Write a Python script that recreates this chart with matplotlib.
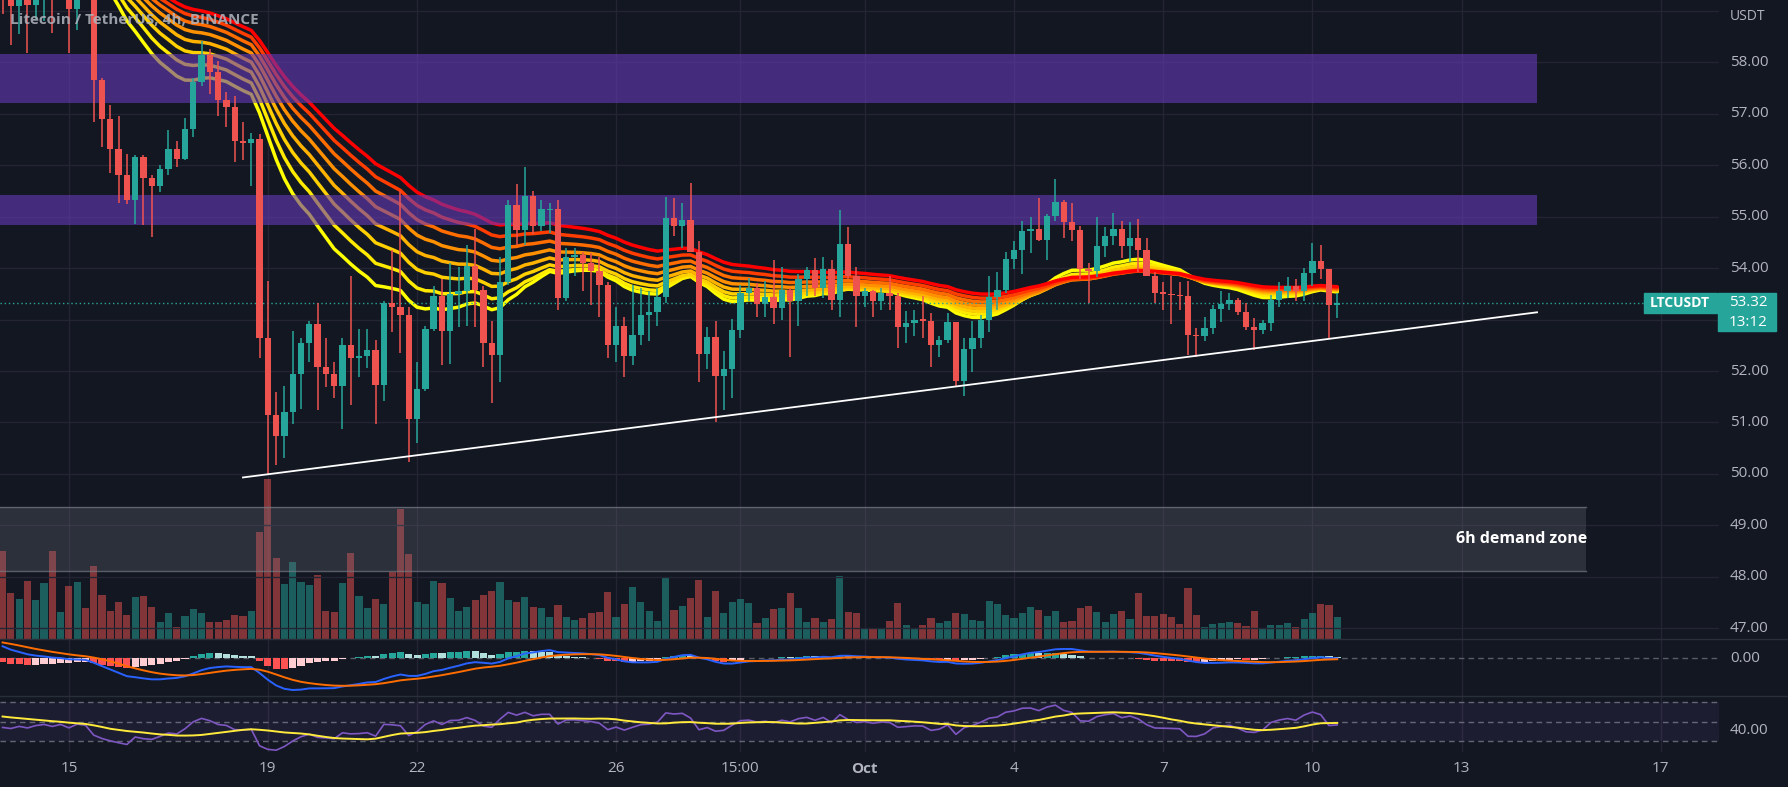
import numpy as np
import matplotlib.pyplot as plt

# ---- LTCUSDT 4h candles, Sep 13 16:00 .. Oct 10 12:00 ----
opens = [59.60, 59.30, 59.09, 59.40, 59.12, 59.45, 59.60, 59.30, 59.55, 59.04,
         59.50, 59.35, 57.66, 56.90, 56.31, 55.81, 55.32, 56.16, 55.76, 55.60,
         55.93, 56.31, 56.12, 56.71, 57.62, 58.14, 57.82, 57.27, 57.13, 56.47,
         56.43, 56.50, 52.65, 51.14, 50.74, 51.21, 51.94, 52.55, 52.92, 52.08,
         51.94, 51.71, 52.50, 52.26, 52.30, 52.40, 51.72, 53.32, 53.24, 53.08,
         51.07, 51.64, 52.81, 53.45, 52.77, 53.50, 53.55, 54.04, 53.58, 52.55,
         52.31, 53.72, 55.22, 54.74, 55.40, 54.82, 55.12, 55.14, 53.42, 54.22,
         54.25, 54.09, 53.95, 53.68, 52.50, 52.88, 52.30, 52.70, 53.08, 53.15,
         53.43, 54.97, 54.82, 54.94, 54.32, 52.33, 52.66, 51.91, 52.04, 52.79,
         53.52, 53.62, 53.30, 53.44, 53.22, 53.57, 53.35, 53.78, 53.96, 53.62,
         53.98, 53.37, 54.47, 53.85, 53.46, 53.56, 53.36, 53.51, 53.45, 52.86,
         52.93, 53.00, 52.98, 52.50, 52.60, 52.95, 51.81, 52.43, 52.65, 52.99,
         53.44, 53.58, 54.17, 54.35, 54.72, 54.75, 54.55, 55.02, 55.28, 54.89,
         54.73, 53.99, 53.95, 54.42, 54.62, 54.75, 54.42, 54.58, 54.35, 53.85,
         53.52, 53.50, 53.48, 53.45, 52.70, 52.68, 52.83, 53.20, 53.30, 53.38,
         53.15, 52.85, 52.80, 52.93, 53.38, 53.55, 53.65, 53.55, 53.90, 54.13,
         53.99, 53.28]
highs = [59.80, 59.50, 59.60, 59.60, 59.70, 59.80, 59.80, 59.90, 59.80, 59.70,
         59.80, 59.50, 57.70, 57.17, 56.96, 56.22, 56.20, 56.20, 55.80, 56.00,
         56.69, 56.47, 56.91, 57.70, 58.42, 58.26, 58.02, 57.42, 57.34, 56.84,
         56.63, 56.60, 53.75, 51.60, 51.71, 52.78, 52.65, 52.98, 53.32, 52.65,
         52.18, 52.65, 53.85, 52.81, 52.81, 52.60, 53.35, 54.35, 55.49, 53.25,
         52.18, 52.88, 53.65, 53.78, 54.09, 54.02, 54.45, 54.76, 53.65, 52.98,
         54.22, 55.32, 55.63, 55.96, 55.49, 55.32, 55.26, 55.32, 54.39, 54.39,
         54.32, 54.29, 54.22, 53.72, 53.25, 53.05, 53.68, 53.62, 53.55, 53.62,
         55.39, 55.36, 55.26, 55.66, 54.52, 52.85, 52.98, 52.38, 53.01, 53.68,
         53.80, 53.70, 53.75, 54.15, 54.02, 53.62, 53.88, 54.02, 54.19, 54.22,
         54.15, 55.12, 54.79, 54.02, 53.62, 53.58, 53.62, 53.84, 53.52, 53.17,
         53.18, 53.45, 53.12, 52.68, 53.12, 52.95, 52.65, 52.98, 53.08, 53.85,
         53.92, 54.32, 54.52, 54.92, 55.00, 55.36, 55.06, 55.73, 55.32, 55.26,
         54.82, 54.10, 55.00, 54.79, 55.07, 54.92, 54.89, 54.96, 54.59, 53.92,
         53.72, 53.85, 53.72, 53.75, 52.83, 53.05, 53.28, 53.55, 53.52, 53.42,
         53.32, 53.03, 53.00, 53.48, 53.72, 53.82, 53.78, 54.00, 54.49, 54.44,
         53.99, 53.52]
lows = [58.93, 58.34, 58.54, 58.18, 58.85, 58.81, 58.57, 59.25, 58.18, 58.62,
        59.25, 56.84, 56.35, 55.84, 55.26, 55.24, 54.86, 54.83, 54.60, 55.48,
        55.80, 55.96, 56.10, 56.55, 57.54, 57.38, 56.95, 56.75, 56.06, 56.10,
        55.59, 52.25, 50.00, 50.17, 50.30, 50.97, 51.27, 52.18, 51.24, 51.68,
        51.47, 50.87, 51.34, 51.88, 52.05, 50.97, 51.41, 52.75, 52.35, 50.24,
        50.60, 51.61, 52.78, 52.11, 52.14, 52.85, 52.88, 52.85, 52.08, 51.37,
        51.78, 53.68, 54.45, 54.45, 54.66, 54.72, 54.69, 53.18, 53.35, 53.85,
        53.55, 53.28, 53.05, 52.25, 52.18, 51.88, 52.11, 52.51, 52.58, 52.88,
        53.32, 54.62, 54.39, 54.32, 51.78, 52.04, 51.01, 51.24, 51.47, 52.65,
        53.35, 53.05, 53.05, 52.92, 53.00, 52.28, 52.88, 53.45, 53.45, 53.42,
        53.18, 53.05, 53.78, 52.85, 53.25, 53.05, 53.18, 53.18, 52.45, 52.55,
        52.68, 52.65, 52.08, 52.28, 52.55, 51.68, 51.51, 51.98, 52.45, 52.75,
        53.18, 53.52, 53.98, 53.88, 54.29, 54.52, 54.15, 54.92, 54.59, 54.52,
        53.78, 53.32, 53.82, 54.22, 54.45, 54.19, 54.12, 53.92, 53.85, 53.32,
        53.18, 52.92, 53.18, 52.31, 52.28, 52.58, 52.72, 52.95, 53.18, 53.08,
        52.80, 52.41, 52.71, 52.77, 53.25, 53.42, 53.35, 53.35, 53.65, 53.78,
        52.65, 53.03]
closes = [59.30, 59.09, 59.40, 59.12, 59.45, 59.60, 59.30, 59.55, 59.04, 59.50,
          59.35, 57.66, 56.90, 56.31, 55.81, 55.32, 56.16, 55.76, 55.60, 55.93,
          56.31, 56.12, 56.71, 57.62, 58.14, 57.82, 57.27, 57.13, 56.47, 56.43,
          56.50, 52.65, 51.14, 50.74, 51.21, 51.94, 52.55, 52.92, 52.08, 51.94,
          51.71, 52.50, 52.26, 52.30, 52.40, 51.72, 53.32, 53.24, 53.08, 51.07,
          51.64, 52.81, 53.45, 52.77, 53.50, 53.55, 54.04, 53.58, 52.55, 52.31,
          53.72, 55.22, 54.74, 55.40, 54.82, 55.14, 55.14, 53.42, 54.22, 54.25,
          54.09, 53.95, 53.68, 52.50, 52.88, 52.30, 52.70, 53.08, 53.15, 53.43,
          54.97, 54.82, 54.94, 54.32, 52.33, 52.66, 51.91, 52.04, 52.79, 53.52,
          53.62, 53.30, 53.44, 53.22, 53.57, 53.35, 53.78, 53.96, 53.62, 53.98,
          53.37, 54.47, 53.85, 53.46, 53.56, 53.36, 53.51, 53.45, 52.86, 52.93,
          53.00, 52.98, 52.50, 52.60, 52.95, 51.81, 52.43, 52.65, 52.99, 53.44,
          53.58, 54.17, 54.35, 54.72, 54.75, 54.55, 55.02, 55.28, 54.89, 54.73,
          53.99, 53.95, 54.42, 54.62, 54.75, 54.42, 54.58, 54.35, 53.85, 53.52,
          53.50, 53.48, 53.45, 52.70, 52.68, 52.83, 53.20, 53.30, 53.38, 53.15,
          52.85, 52.80, 52.93, 53.38, 53.55, 53.65, 53.55, 53.90, 54.13, 53.99,
          53.28, 53.32]
volumes = [88, 46, 40, 58, 39, 56, 88, 27, 53, 57, 31, 73, 44, 28, 37, 24, 42, 43, 32, 17,
           26, 12, 23, 30, 26, 17, 17, 19, 24, 23, 28, 107, 160, 81, 55, 77, 57, 54, 64, 28,
           27, 56, 86, 43, 31, 40, 35, 67, 130, 85, 37, 35, 58, 56, 41, 28, 32, 39, 44, 48,
           57, 39, 37, 42, 32, 31, 22, 34, 22, 19, 21, 26, 27, 47, 22, 35, 52, 37, 28, 18,
           62, 29, 33, 41, 59, 22, 48, 26, 37, 40, 36, 16, 21, 30, 31, 46, 31, 17, 21, 17,
           20, 63, 27, 26, 10, 10, 11, 18, 36, 14, 11, 14, 21, 16, 18, 26, 25, 19, 18, 38,
           35, 24, 21, 26, 32, 29, 23, 28, 17, 18, 31, 33, 27, 17, 25, 28, 20, 46, 23, 23,
           25, 22, 15, 51, 24, 12, 15, 16, 17, 16, 13, 28, 10, 14, 14, 16, 12, 20, 26, 35,
           34, 22]

# indicator settings / warm-up state before the first visible bar
ribbon_periods = [25, 30, 35, 40, 45, 50, 55, 60]
ribbon_seed = [61.0, 61.0, 61.0, 61.0, 61.0, 61.0, 61.0, 61.0]
ribbon_colors = ['#ffff00', '#ffea00', '#ffd000', '#ffb300', '#ff9100', '#ff6d00', '#ff3d00', '#ff0000']
macd_seed = (61.0, 60.2, 0.85)     # ema12, ema26, signal
rsi_seed = (0.30, 0.36, 56.0)      # avg gain, avg loss, previous rsi ma

# x tick labels (candle index) and chart annotations
tick_pos = [8, 32, 50, 74, 89, 104, 122, 140, 158, 176, 200]
tick_lab = ['15', '19', '22', '26', '15:00', 'Oct', '4', '7', '10', '13', '17']
zones = [(57.21, 58.16), (54.84, 55.42)]
demand = (48.11, 49.36)
trend = ([29.0, 185.1], [49.93, 53.14])
last_price = 53.32

BG = '#131722'
TXT = '#b2b5be'
UP, DN = '#26a69a', '#ef5350'
W, H = 1788, 787
FONT = ['Open Sans', 'DejaVu Sans']
plt.rcParams['font.family'] = FONT

o, h, l, c = map(np.array, (opens, highs, lows, closes))
v = np.array(volumes, float)
n = len(c)
x = np.arange(n)
up = c >= o
col = np.where(up, UP, DN)


def ema(vals, period, seed):
    a = 2.0 / (period + 1)
    out = np.empty(len(vals))
    prev = seed
    for k, val in enumerate(vals):
        prev = prev + a * (val - prev)
        out[k] = prev
    return out


# MACD 12/26/9
macd = ema(c, 12, macd_seed[0]) - ema(c, 26, macd_seed[1])
signal = ema(macd, 9, macd_seed[2])
hist = macd - signal
hcol = []
for k in range(n):
    prev = hist[k - 1] if k else hist[k]
    if hist[k] >= 0:
        hcol.append('#26a69a' if hist[k] > prev else '#b2dfdb')
    else:
        hcol.append('#ffcdd2' if hist[k] > prev else '#ff5252')

# RSI 14 with SMA 14
ag, al = rsi_seed[0], rsi_seed[1]
prev_c = o[0]
rsi = np.empty(n)
for k in range(n):
    d = c[k] - prev_c
    prev_c = c[k]
    ag = (ag * 13 + max(d, 0)) / 14
    al = (al * 13 + max(-d, 0)) / 14
    rsi[k] = 100 - 100 / (1 + ag / al)
padded = np.r_[np.full(13, rsi_seed[2]), rsi]
rsi_ma = np.convolve(padded, np.ones(14) / 14, mode='valid')

fig = plt.figure(figsize=(W / 100, H / 100), dpi=100, facecolor=BG)
xl = (-0.31, 207.05)


def rect(y0, y1):
    return [0, 1 - y1 / H, 1719 / W, (y1 - y0) / H]


ax_v = fig.add_axes(rect(0, 639))
ax_p = fig.add_axes(rect(0, 639))
ax_m = fig.add_axes(rect(639, 696))
ax_r = fig.add_axes(rect(696, 752))
for ax in (ax_v, ax_p, ax_m, ax_r):
    ax.set_xlim(*xl)
    ax.set_axis_off()
ax_v.set_facecolor(BG)
ax_p.patch.set_alpha(0)

# grid
for ax in (ax_v, ax_m, ax_r):
    for t in tick_pos:
        ax.axvline(t, color='#232632', lw=1, zorder=0)
ax_p.set_ylim(46.79, 59.21)
for p in range(47, 60):
    ax_p.axhline(p, color='#232632', lw=1, zorder=0)

# volume
ax_v.set_ylim(0, 639)
ax_v.bar(x, v, width=0.86, color=col, alpha=0.5, zorder=1)

# ribbon
for per, seed, rc in zip(ribbon_periods, ribbon_seed, ribbon_colors):
    ax_p.plot(x, ema(c, per, seed), color=rc, lw=2.5, zorder=2, solid_capstyle='round')

# zones
for lo, hi in zones:
    ax_p.fill_between([xl[0], 185.1], lo, hi, color='#673ab7', alpha=0.6, lw=0, zorder=3)
ax_p.fill_between([xl[0], 191.0], demand[0], demand[1], color='#787b86', alpha=0.25, lw=0, zorder=3)
for yy in demand:
    ax_p.plot([xl[0], 191.0], [yy, yy], color='#787b86', lw=1, alpha=0.7, zorder=3)
ax_p.text(183.3, sum(demand) / 2, '6h demand zone', color='white', fontsize=11.5,
          fontweight='bold', ha='center', va='center', zorder=6)

# candles
ax_p.vlines(x, l, h, colors=col, lw=1.1, zorder=4)
body = np.maximum(np.abs(c - o), 0.025)
ax_p.bar(x, body, bottom=np.minimum(o, c), width=0.76, color=col, zorder=4)

# trend line and last price
ax_p.plot(trend[0], trend[1], color='white', lw=1.3, zorder=5)
ax_p.axhline(last_price, color=UP, lw=1, ls=(0, (1, 2)), zorder=3)

# MACD
ax_m.axhline(0, color='#787b86', lw=1, ls=(0, (4, 3)), alpha=0.7)
ax_m.bar(x, hist, width=0.86, color=hcol, zorder=2)
ax_m.plot(x, macd, color='#2962ff', lw=1.4, zorder=3)
ax_m.plot(x, signal, color='#ff6d00', lw=1.4, zorder=3)
mmin = macd.min()
ax_m.set_ylim(mmin * 38 / 32, -mmin * 19 / 32)

# RSI
ax_r.set_ylim(18.7, 76.2)
ax_r.fill_between(xl, 30, 70, color='#7e57c2', alpha=0.1, lw=0)
for lvl in (70, 50, 30):
    ax_r.axhline(lvl, color='#787b86', lw=1, ls=(0, (4, 3)), alpha=0.8)
ax_r.plot(x, rsi, color='#7e57c2', lw=1.2, zorder=3)
ax_r.plot(x, rsi_ma, color='#ffeb3b', lw=1.4, zorder=3)

# panel separators
for yy in (639, 696):
    fig.add_artist(plt.Line2D([0, 1], [1 - yy / H] * 2, color='#2a2e39', lw=1))


def ftext(px, py, s, **kw):
    fig.text(px / W, 1 - py / H, s, **kw)


ftext(10, 20, 'Litecoin / TetherUS, 4h, BINANCE', color=TXT, fontsize=11,
      fontweight='bold', va='center', alpha=0.85)
ftext(1730, 16, 'USDT', color=TXT, fontsize=10, va='center')
for p in range(58, 46, -1):
    if p == 53:
        continue
    ftext(1730, 62.3 + (58 - p) * 51.45, f'{p:.2f}', color=TXT, fontsize=11, va='center')
ftext(1730, 658, '0.00', color=TXT, fontsize=11, va='center')
ftext(1730, 731, '40.00', color=TXT, fontsize=11, va='center')
for t, s in zip(tick_pos, tick_lab):
    ftext(2.58 + 8.29 * t, 769, s, color=TXT, fontsize=11, ha='center', va='center',
          fontweight='bold' if s == 'Oct' else 'normal')

# price tags
fig.patches.append(plt.Rectangle((1644 / W, 1 - 313 / H), 73 / W, 20 / H,
                                 transform=fig.transFigure, color=UP))
fig.patches.append(plt.Rectangle((1718 / W, 1 - 331 / H), 58 / W, 38 / H,
                                 transform=fig.transFigure, color=UP))
ftext(1680, 303, 'LTCUSDT', color='white', fontsize=10, fontweight='bold', ha='center', va='center')
ftext(1748, 303, f'{last_price:.2f}', color='white', fontsize=11, ha='center', va='center')
ftext(1748, 322, '13:12', color='white', fontsize=11, ha='center', va='center')

fig.savefig('out.png', dpi=100, facecolor=BG)
